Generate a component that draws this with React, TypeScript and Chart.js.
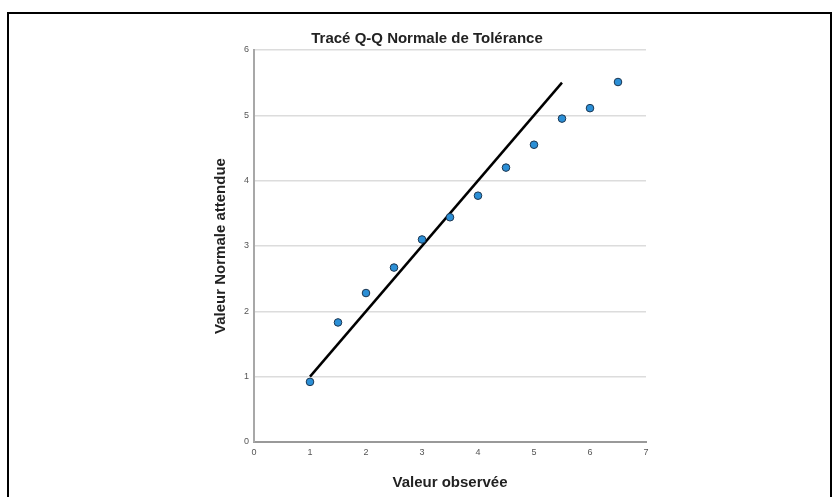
import React, { useEffect, useRef } from "react";
import { Chart, registerables } from "chart.js";

Chart.register(...registerables);

const chartTitle = "Tracé Q-Q Normale de Tolérance";
const xTitle = "Valeur observée";
const yTitle = "Valeur Normale attendue";

const observed = [1, 1.5, 2, 2.5, 3, 3.5, 4, 4.5, 5, 5.5, 6, 6.5];
const expected = [0.92, 1.83, 2.28, 2.67, 3.1, 3.44, 3.77, 4.2, 4.55, 4.95, 5.11, 5.51];

const refLineX = [1, 5.5];
const refLineY = [1, 5.5];

const xMin = 0, xMax = 7;
const yMin = 0, yMax = 6;

export default function App() {
  const canvasRef = useRef<HTMLCanvasElement | null>(null);

  useEffect(() => {
    const canvas = canvasRef.current;
    if (!canvas) return;
    const font = "'Liberation Sans', Arial, sans-serif";
    const chart = new Chart(canvas, {
      type: "scatter",
      data: {
        datasets: [
          {
            type: "scatter",
            label: "points",
            data: observed.map((x, i) => ({ x, y: expected[i] })),
            backgroundColor: "#2b8fd6",
            borderColor: "#1b3550",
            borderWidth: 1,
            pointRadius: 3.8,
            order: 0,
          },
          {
            type: "line",
            label: "ref",
            data: refLineX.map((x, i) => ({ x, y: refLineY[i] })),
            borderColor: "#000000",
            borderWidth: 2.5,
            pointRadius: 0,
            fill: false,
            order: 1,
          } as any,
        ],
      },
      options: {
        animation: false,
        responsive: false,
        layout: { padding: { left: 208, right: 190, top: 0, bottom: 1 } },
        plugins: {
          legend: { display: false },
          tooltip: { enabled: false },
          title: {
            display: true,
            text: chartTitle,
            color: "#222",
            font: { family: font, size: 15, weight: "bold" },
            padding: { top: 30, bottom: 2 },
          },
        },
        scales: {
          x: {
            type: "linear",
            min: xMin,
            max: xMax,
            afterFit: (s: any) => { s.height = 54; },
            ticks: { stepSize: 1, color: "#555", font: { family: font, size: 9 }, padding: 5 },
            grid: { display: false, drawTicks: false },
            border: { display: true, color: "#999999", width: 2 },
            title: {
              display: true,
              text: xTitle,
              color: "#222",
              font: { family: font, size: 15, weight: "bold" },
              padding: { top: 4, bottom: 4 },
            },
          },
          y: {
            type: "linear",
            min: yMin,
            max: yMax,
            afterFit: (s: any) => { s.width = 46; },
            ticks: { stepSize: 1, color: "#555", font: { family: font, size: 9 }, padding: 5 },
            grid: {
              drawTicks: false,
              color: (ctx: any) => (ctx.tick && ctx.tick.value === 0 ? "rgba(0,0,0,0)" : "#dcdcdc"),
              lineWidth: 1.5,
            },
            border: { display: true, color: "#a8a8a8", width: 2 },
            title: {
              display: true,
              text: yTitle,
              color: "#222",
              font: { family: font, size: 15, weight: "bold" },
              padding: { top: 4, bottom: 4 },
            },
          },
        },
      },
    });
    return () => chart.destroy();
  }, []);

  return (
    <div style={{ position: "fixed", left: 0, top: 0, width: 836, height: 497, background: "#fff" }}>
      <div
        style={{
          position: "absolute",
          left: 7,
          top: 12,
          width: 825,
          height: 485,
          boxSizing: "border-box",
          borderLeft: "2px solid #000",
          borderTop: "2px solid #000",
          borderRight: "2px solid #000",
        }}
      />
      <canvas ref={canvasRef} width={836} height={497} style={{ position: "absolute", left: 0, top: 0, width: 836, height: 497 }} />
    </div>
  );
}
